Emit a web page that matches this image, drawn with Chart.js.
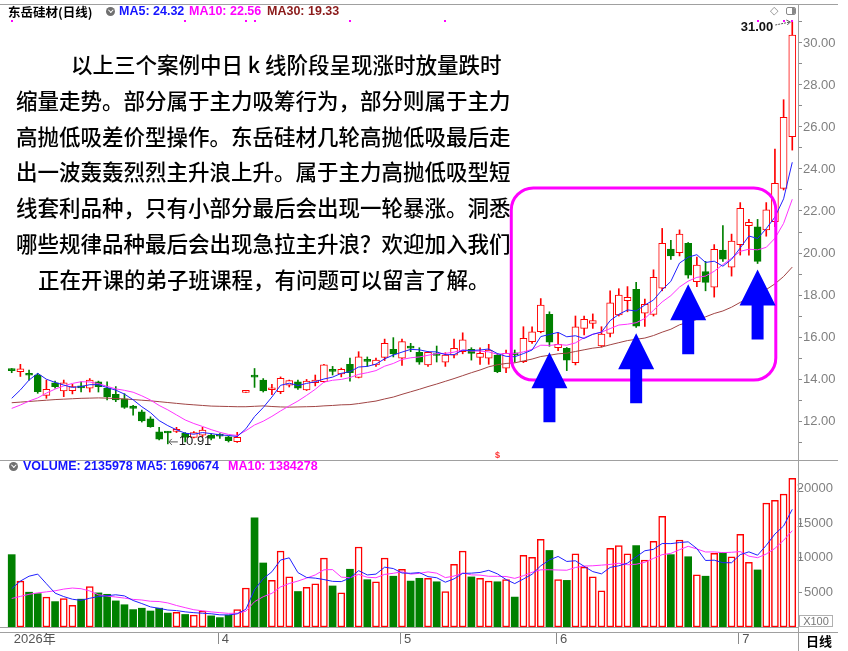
<!DOCTYPE html>
<html lang="zh-CN">
<head>
<meta charset="utf-8">
<title>东岳硅材(日线)</title>
<script src="https://cdn.jsdelivr.net/npm/chart.js@4.4.1/dist/chart.umd.min.js"></script>
<style>
  html, body { margin:0; padding:0; background:#fff; }
  body { width:848px; height:651px; position:relative; overflow:hidden; }
  canvas { position:absolute; left:0; }
  #priceCanvas { top:4px; }
  #volCanvas { top:460px; }
  .ln { position:absolute; background:#a0a0a0; z-index:2; }
  .hdr { position:absolute; white-space:nowrap; font-family:"Liberation Sans", Arial, "Noto Sans CJK SC", sans-serif; font-weight:bold; font-size:12.5px; line-height:15px; z-index:3; }
  .icon { position:absolute; width:9px; height:9px; border-radius:50%; background:#707070; z-index:3; }
  .icon::after { content:""; position:absolute; left:2.6px; top:1.2px; width:2.6px; height:2.6px; border-right:1.3px solid #fff; border-bottom:1.3px solid #fff; transform:rotate(45deg); }
  #note { position:absolute; left:16px; top:46px; font-family:"Noto Sans CJK SC", sans-serif; font-weight:500; font-size:21.5px; line-height:35.8px; color:#000; white-space:nowrap; z-index:3; }
  #note div { height:35.8px; }
</style>
</head>
<body>
<canvas id="priceCanvas" width="848" height="456" style="width:848px;height:456px"></canvas>
<canvas id="volCanvas" width="848" height="191" style="width:848px;height:191px"></canvas>

<div class="ln" style="left:0;top:4px;width:838px;height:1px"></div>
<div class="ln" style="left:0;top:460px;width:838px;height:1px"></div>
<div class="ln" style="left:0;top:627px;width:798px;height:1px"></div>
<div class="ln" style="left:0;top:632px;width:838px;height:1px"></div>
<div class="ln" style="left:798px;top:4px;width:1px;height:647px"></div>

<div class="hdr" id="stockName" style="left:8px;top:4px;color:#000;font-family:'Noto Sans CJK SC',sans-serif;font-size:12.5px;font-weight:bold"></div>
<div class="icon" style="left:106px;top:7px"></div>
<div class="hdr" id="hMa5" style="left:119px;top:4px;color:#1414ff"></div>
<div class="hdr" id="hMa10" style="left:189px;top:4px;color:#ff00ff"></div>
<div class="hdr" id="hMa30" style="left:267px;top:4px;color:#8b1a1a"></div>
<div class="hdr" style="left:770px;top:3px;color:#888;font-weight:normal;font-size:11px;font-family:'DejaVu Sans',sans-serif">◇</div>
<div style="position:absolute;left:786px;top:7px;width:8px;height:6px;border:1px solid #888;border-radius:2px;z-index:3;overflow:hidden"><div style="position:absolute;right:0;top:0;width:3px;height:6px;background:#888"></div></div>

<div class="icon" style="left:9px;top:462px"></div>
<div class="hdr" id="vHead" style="left:23px;top:459px;color:#1414ff"></div>
<div class="hdr" id="vMa10" style="left:228px;top:459px;color:#ff00ff"></div>

<div style="position:absolute;left:799px;top:615px;width:32px;height:10px;border:1px solid #b0b0b0;z-index:3;font-family:'Liberation Sans',Arial,sans-serif;font-size:11px;line-height:10px;color:#777;text-align:center">X100</div>
<div class="hdr" id="periodLbl" style="left:806px;top:633px;color:#000;font-family:'Noto Sans CJK SC',sans-serif;font-size:13px"></div>

<div id="note"></div>

<script>
// ---------------- data ----------------
const stockName = '东岳硅材(日线)';
const periodLabel = '日线';
const priceHeader = { ma5: 24.32, ma10: 22.56, ma30: 19.33 };
const volHeader = { volume: 2135978, ma5: 1690674, ma10: 1384278 };

const opens = [14.45,14.35,14.21,14.19,13.22,13.82,13.43,13.45,13.62,13.56,
13.87,13.56,13.27,13.05,12.71,12.44,12.10,11.49,11.47,11.50,
11.41,11.22,11.33,11.33,11.32,11.25,11.01,13.36,14.13,13.95,
13.49,13.40,13.71,13.87,13.48,13.82,13.87,14.40,14.24,14.70,
14.08,14.88,14.67,15.03,15.41,14.99,15.50,15.27,14.67,15.16,
14.80,15.14,15.30,15.41,15.03,14.99,15.14,14.51,15.19,14.83,
15.78,16.25,17.08,15.49,15.46,14.78,16.41,16.65,15.57,16.17,
17.05,17.73,18.27,17.13,17.08,18.32,20.19,20.02,20.46,18.63,
19.11,18.37,20.14,19.32,20.40,21.30,21.25,21.10,21.49,23.08,
25.54];
const highs = [14.50,14.70,14.43,14.27,13.95,13.90,13.95,13.75,13.86,14.02,
13.90,13.87,13.64,13.30,12.75,12.52,12.20,11.70,11.50,11.70,
11.45,11.50,11.70,11.40,11.40,11.28,11.46,13.46,14.50,14.02,
13.75,14.10,13.95,13.95,13.98,14.19,14.70,14.60,14.52,15.00,
15.30,15.05,15.00,15.90,15.97,15.90,15.70,15.49,15.30,15.57,
15.25,15.90,16.20,15.49,15.49,15.65,15.20,15.38,15.38,16.49,
16.49,17.83,17.20,16.20,15.50,17.00,17.00,17.10,16.49,18.20,
18.30,18.40,18.60,17.80,19.20,21.17,20.60,21.10,20.50,19.80,
19.60,20.40,21.30,20.90,22.40,21.60,21.60,22.40,24.95,27.30,
31.00];
const lows = [14.30,14.12,13.95,13.32,13.08,13.56,13.16,13.29,13.38,13.38,
13.38,13.00,12.92,12.60,12.28,11.95,11.70,11.10,10.91,11.45,
11.00,11.20,11.25,11.10,11.17,11.00,10.98,13.36,13.60,13.38,
13.25,13.30,13.62,13.50,13.45,13.67,13.85,14.19,14.10,13.90,
14.05,14.60,14.60,14.88,15.05,14.65,15.30,14.70,14.60,14.81,
14.60,15.00,15.20,14.90,14.70,14.70,14.30,14.30,14.80,14.78,
15.70,16.20,15.56,15.35,14.40,14.67,16.10,16.41,15.52,16.00,
17.00,17.20,16.46,16.50,17.00,18.20,19.70,19.86,18.80,18.40,
18.20,17.90,19.60,18.90,19.90,19.90,19.50,20.80,21.25,23.00,
24.90];
const closes = [14.40,14.48,14.18,13.40,13.51,13.64,13.82,13.64,13.58,13.95,
13.64,13.16,13.00,12.65,12.60,12.00,11.73,11.13,11.43,11.60,
11.22,11.45,11.57,11.17,11.28,11.06,11.22,13.46,14.09,13.43,
13.53,14.03,13.92,13.56,13.90,13.95,14.67,14.36,14.46,14.30,
15.06,14.84,14.90,15.70,15.19,15.78,15.47,14.80,15.27,15.12,
15.14,15.46,15.86,15.22,15.22,15.38,14.35,15.22,15.15,15.94,
16.25,17.52,15.75,15.65,14.90,16.49,16.84,16.78,16.14,17.63,
18.00,17.89,16.52,17.56,18.84,20.46,19.86,20.90,18.95,19.43,
18.60,20.17,19.71,20.57,22.13,21.46,19.60,22.05,23.32,26.46,
30.38];

const ma5 = [13.08,13.48,13.95,14.27,13.99,13.84,13.71,13.60,13.64,13.73,
13.73,13.59,13.47,13.28,13.01,12.68,12.40,12.02,11.78,11.58,
11.42,11.37,11.45,11.40,11.34,11.31,11.26,11.63,12.21,12.64,
13.14,13.70,13.80,13.69,13.79,13.87,14.00,14.09,14.27,14.35,
14.57,14.60,14.71,14.96,15.14,15.28,15.41,15.39,15.30,15.29,
15.16,15.16,15.37,15.36,15.38,15.43,15.21,15.08,15.06,15.21,
15.38,16.02,16.12,16.22,16.01,16.06,15.93,16.13,16.23,16.78,
17.08,17.29,17.24,17.52,17.76,18.25,18.65,19.52,19.80,19.92,
19.55,19.61,19.37,19.70,20.24,20.81,20.69,21.16,21.71,22.58,
24.32];
const ma10 = [12.60,12.76,12.95,13.10,13.33,13.52,13.67,13.79,13.87,13.86,
13.78,13.65,13.53,13.46,13.37,13.20,13.00,12.74,12.53,12.29,
12.05,11.88,11.74,11.59,11.46,11.36,11.31,11.54,11.81,11.99,
12.22,12.48,12.72,12.95,13.22,13.51,13.85,13.94,13.98,14.07,
14.22,14.30,14.40,14.61,14.74,14.93,15.01,15.05,15.13,15.21,
15.22,15.28,15.38,15.33,15.33,15.29,15.18,15.22,15.21,15.29,
15.41,15.61,15.60,15.64,15.61,15.72,15.97,16.13,16.23,16.40,
16.57,16.61,16.68,16.88,17.27,17.67,17.97,18.38,18.66,18.84,
18.90,19.13,19.45,19.75,20.08,20.18,20.15,20.27,20.70,21.41,
22.56];
const ma30 = [12.87,12.90,12.93,12.96,12.99,13.02,13.04,13.06,13.08,13.09,
13.10,13.09,13.07,13.05,13.02,12.99,12.96,12.92,12.88,12.84,
12.80,12.77,12.74,12.71,12.70,12.69,12.68,12.68,12.70,12.72,
12.69,12.67,12.66,12.67,12.68,12.69,12.72,12.74,12.77,12.78,
12.83,12.89,12.95,13.05,13.14,13.27,13.39,13.51,13.64,13.76,
13.89,14.02,14.16,14.30,14.43,14.58,14.68,14.74,14.77,14.86,
14.95,15.07,15.13,15.20,15.23,15.31,15.39,15.47,15.52,15.63,
15.73,15.83,15.89,15.95,16.07,16.23,16.37,16.58,16.70,16.84,
16.96,17.12,17.24,17.42,17.65,17.86,18.03,18.26,18.53,18.88,
19.33];

// volume in units of 100 shares (axis "X100")
const volumes = [10400,6600,5000,4800,4300,3650,4100,3100,4000,5800,
4900,4700,3750,3200,2500,2700,2300,2700,2000,2100,
1800,1700,2300,1600,1350,1700,2500,5600,15700,9200,
6700,10900,7200,5100,5700,6200,9900,5900,4900,8300,
11500,6800,6500,9900,7300,8300,6600,7000,7000,6500,
5100,9000,10900,7200,7000,6600,6500,6800,4300,10300,
10000,12600,11000,6800,6700,10500,8600,7200,5200,11300,
11700,10500,11700,9600,12300,15900,10400,12500,10100,7500,
7300,10600,10700,10100,13300,9300,8200,17800,18200,19100,
21360];
const volMa5 = [5500,6600,7300,7600,6220,4870,4370,3990,3830,4130,
4380,4500,4630,4470,3810,3370,2890,2680,2440,2360,
2180,2060,1980,1900,1750,1730,1890,2550,5370,6940,
7940,9620,9940,7820,7120,7020,6820,6560,6520,7040,
8100,7480,7600,8600,8400,7760,7720,7820,7240,7080,
6440,6920,7700,7740,7840,8140,7640,6820,6240,6900,
7580,8800,9640,10140,9420,9520,8720,7960,7640,8560,
8800,9180,10080,10960,11160,12000,11980,12140,12240,11280,
9560,9600,9240,9240,10400,10800,10320,11740,13360,14520,
16907];
const volMa10 = [4100,4400,4700,4900,5050,5200,5450,5600,5500,5180,
4630,4440,4310,4150,3970,3880,3700,3660,3460,3090,
2780,2480,2330,2170,2060,1960,1980,2270,3640,4350,
4840,5760,6250,6600,7030,7480,8220,8250,7170,7080,
7560,7150,7080,7560,7720,7930,7600,7710,7920,7740,
7100,7320,7760,7490,7460,7290,7280,7260,6990,7370,
7860,8220,8230,8190,8160,8550,8760,8800,8890,8990,
9160,8950,9020,9300,9860,10400,10580,11110,11600,11220,
10780,10790,10690,10740,10840,10180,9960,10490,11300,12460,
13843];

// x-axis (trading-day index of first session of each month)
const monthTicks = [0, 24, 45, 63, 84];
const monthLabels = ['2026年', '4', '5', '6', '7'];
// price / volume axis ticks
const priceTickLabels = [12, 14, 16, 18, 20, 22, 24, 26, 28, 30];
const volTickLabels = [5000, 10000, 15000, 20000];

// annotations
const arrowDays = [62, 72, 78, 86];
const infoMarkerDays = [0, 20, 27, 28, 39, 50, 86, 89, 90];
const dividendDay = 56;
const highlightBox = { fromDay: 57.6, toDay: 88.1, top: 23.10, bottom: 13.95 };
const noteLines = [
  '以上三个案例中日 k 线阶段呈现涨时放量跌时',
  '缩量走势。部分属于主力吸筹行为，部分则属于主力',
  '高抛低吸差价型操作。东岳硅材几轮高抛低吸最后走',
  '出一波轰轰烈烈主升浪上升。属于主力高抛低吸型短',
  '线套利品种，只有小部分最后会出现一轮暴涨。洞悉',
  '哪些规律品种最后会出现急拉主升浪？欢迎加入我们',
  '正在开课的弟子班课程，有问题可以留言了解。'
];
const noteIndent = [55, 0, 0, 0, 0, 0, 22];

// ---------------- view constants ----------------
const X_MIN = -1.35, X_MAX = 90.66;
const P_MIN = 10.143, P_MAX = 31.857;
const V_MIN = 0, V_MAX = 24000;
const RED = '#ff0000', GREEN = '#008000';
const C_MA5 = '#2020ff', C_MA10 = '#ff33ff', C_MA30 = '#a04444';

// ---------------- header texts ----------------
document.getElementById('stockName').textContent = stockName;
document.getElementById('hMa5').textContent = 'MA5: ' + priceHeader.ma5.toFixed(2);
document.getElementById('hMa10').textContent = 'MA10: ' + priceHeader.ma10.toFixed(2);
document.getElementById('hMa30').textContent = 'MA30: ' + priceHeader.ma30.toFixed(2);
document.getElementById('vHead').textContent = 'VOLUME: ' + volHeader.volume + ' MA5: ' + volHeader.ma5;
document.getElementById('vMa10').textContent = 'MA10: ' + volHeader.ma10;
document.getElementById('periodLbl').textContent = periodLabel;
const note = document.getElementById('note');
noteLines.forEach((t, i) => {
  const d = document.createElement('div');
  d.textContent = t;
  d.style.paddingLeft = noteIndent[i] + 'px';
  note.appendChild(d);
});

// ---------------- derived chart data ----------------
const up = closes.map((c, i) => c >= opens[i]);
const wickData = lows.map((l, i) => ({ x: i, y: [l, highs[i]] }));
const bodyData = opens.map((o, i) => ({ x: i, y: [o, closes[i]] }));
const toXY = arr => arr.map((v, i) => ({ x: i, y: v }));

Chart.defaults.font.family = '"Liberation Sans", Arial, "Noto Sans CJK SC", sans-serif';

function fixY(w) {
  return function (scale) { scale.width = w; scale.paddingTop = 0; scale.paddingBottom = 0; };
}

// ---------------- price chart ----------------
const priceDecor = {
  id: 'priceDecor',
  afterDatasetsDraw(chart) {
    const { ctx } = chart;
    const xs = chart.scales.x, ys = chart.scales.y;
    ctx.save();

    // info markers
    ctx.fillStyle = '#ff00ff';
    infoMarkerDays.forEach(d => {
      ctx.fillRect(Math.round(xs.getPixelForValue(d)) - 1, 16, 2, 2);
    });

    // highlight box
    const bx1 = xs.getPixelForValue(highlightBox.fromDay);
    const bx2 = xs.getPixelForValue(highlightBox.toDay);
    const by1 = ys.getPixelForValue(highlightBox.top);
    const by2 = ys.getPixelForValue(highlightBox.bottom);
    ctx.strokeStyle = '#ff00ff';
    ctx.lineWidth = 3;
    ctx.beginPath();
    ctx.roundRect(bx1, by1, bx2 - bx1, by2 - by1, 22);
    ctx.stroke();

    // blue arrows below selected candles
    ctx.fillStyle = '#0000ff';
    arrowDays.forEach(d => {
      const cx = xs.getPixelForValue(d);
      const ay = ys.getPixelForValue(lows[d]) + 6;
      const triH = 36, half = 18, sh = 6, shaftH = 34;
      ctx.beginPath();
      ctx.moveTo(cx, ay);
      ctx.lineTo(cx + half, ay + triH);
      ctx.lineTo(cx + sh, ay + triH);
      ctx.lineTo(cx + sh, ay + triH + shaftH);
      ctx.lineTo(cx - sh, ay + triH + shaftH);
      ctx.lineTo(cx - sh, ay + triH);
      ctx.lineTo(cx - half, ay + triH);
      ctx.closePath();
      ctx.fill();
    });

    // max high label
    let hi = 0; highs.forEach((h, i) => { if (h > highs[hi]) hi = i; });
    const hx = xs.getPixelForValue(hi), hy = ys.getPixelForValue(highs[hi]);
    ctx.strokeStyle = '#555';
    ctx.lineWidth = 1;
    ctx.setLineDash([2, 1]);
    ctx.beginPath(); ctx.moveTo(hx - 17, hy + 3); ctx.lineTo(hx - 2, hy); ctx.stroke();
    ctx.setLineDash([]);
    ctx.beginPath(); ctx.moveTo(hx - 6, hy - 2); ctx.lineTo(hx - 2, hy); ctx.lineTo(hx - 5, hy + 3); ctx.stroke();
    ctx.fillStyle = '#111';
    ctx.font = 'bold 13px "Liberation Sans", Arial, sans-serif';
    ctx.textAlign = 'right';
    ctx.textBaseline = 'middle';
    ctx.fillText(highs[hi].toFixed(2), hx - 19, hy + 5);

    // min low label
    let lo = 0; lows.forEach((l, i) => { if (l < lows[lo]) lo = i; });
    const lx = xs.getPixelForValue(lo), ly = ys.getPixelForValue(lows[lo]) - 2;
    ctx.strokeStyle = '#555';
    ctx.beginPath(); ctx.moveTo(lx + 1, ly); ctx.lineTo(lx + 10, ly); ctx.stroke();
    ctx.beginPath(); ctx.moveTo(lx + 4, ly - 3); ctx.lineTo(lx + 1, ly); ctx.lineTo(lx + 4, ly + 3); ctx.stroke();
    ctx.fillStyle = '#222';
    ctx.font = '13px "Liberation Sans", Arial, sans-serif';
    ctx.textAlign = 'left';
    ctx.fillText(lows[lo].toFixed(2), lx + 11, ly);

    // dividend marker
    ctx.fillStyle = '#ff3030';
    ctx.font = 'bold 9px "Liberation Sans", Arial, sans-serif';
    ctx.textAlign = 'center';
    ctx.fillText('$', xs.getPixelForValue(dividendDay), chart.chartArea.bottom - 4);

    ctx.restore();
  }
};

new Chart(document.getElementById('priceCanvas'), {
  type: 'line',
  data: {
    datasets: [
      { type: 'line', data: toXY(ma5), borderColor: C_MA5, borderWidth: 1, pointRadius: 0, order: 0 },
      { type: 'line', data: toXY(ma10), borderColor: C_MA10, borderWidth: 1, pointRadius: 0, order: 0 },
      { type: 'line', data: toXY(ma30), borderColor: C_MA30, borderWidth: 1, pointRadius: 0, order: 0 },
      { type: 'bar', data: bodyData, grouped: false, barThickness: 7, minBarLength: 2,
        backgroundColor: up.map(u => u ? '#ffffff' : GREEN),
        borderColor: up.map(u => u ? RED : GREEN), borderWidth: 1, borderSkipped: false, order: 1 },
      { type: 'bar', data: wickData, grouped: false, barThickness: 1, minBarLength: 1,
        backgroundColor: up.map(u => u ? RED : GREEN), borderWidth: 0, order: 2 }
    ]
  },
  options: {
    responsive: false, animation: false, devicePixelRatio: 1,
    layout: { padding: 0 },
    plugins: { legend: { display: false }, tooltip: { enabled: false } },
    scales: {
      x: { type: 'linear', min: X_MIN, max: X_MAX, offset: false, display: false },
      y: {
        type: 'linear', position: 'right', min: P_MIN, max: P_MAX,
        border: { display: false },
        grid: { display: true, drawOnChartArea: false, drawTicks: true, tickLength: 4, color: '#8a8a8a' },
        ticks: {
          stepSize: 1, includeBounds: false, autoSkip: false, padding: 1,
          color: '#808080', font: { size: 13 },
          callback: v => priceTickLabels.includes(v) ? v.toFixed(2) : ''
        },
        afterFit: fixY(50)
      }
    }
  },
  plugins: [priceDecor]
});

// ---------------- volume chart ----------------
const volDecor = {
  id: 'volDecor',
  afterDraw(chart) {
    const { ctx } = chart;
    const xs = chart.scales.x, ys = chart.scales.y;
    const right = chart.chartArea.right;
    ctx.save();
    ctx.strokeStyle = '#8a8a8a';
    ctx.lineWidth = 1;
    // month separators on the time axis
    monthTicks.forEach((d, k) => {
      if (k === 0) return;
      const px = Math.round(xs.getPixelForValue(d)) - 1.5;
      ctx.beginPath(); ctx.moveTo(px, 172); ctx.lineTo(px, 184); ctx.stroke();
    });
    // value axis ticks + labels (right side)
    ctx.fillStyle = '#808080';
    ctx.font = '13px "Liberation Sans", Arial, sans-serif';
    ctx.textAlign = 'right';
    ctx.textBaseline = 'middle';
    volTickLabels.forEach(v => {
      const py = Math.round(ys.getPixelForValue(v)) + 0.5;
      ctx.beginPath(); ctx.moveTo(right, py); ctx.lineTo(right + 4, py); ctx.stroke();
      ctx.fillText(String(v), right + 35, py);
    });
    ctx.restore();
  }
};

new Chart(document.getElementById('volCanvas'), {
  type: 'line',
  data: {
    datasets: [
      { type: 'line', data: toXY(volMa5), borderColor: C_MA5, borderWidth: 1, pointRadius: 0, order: 0 },
      { type: 'line', data: toXY(volMa10), borderColor: C_MA10, borderWidth: 1, pointRadius: 0, order: 0 },
      { type: 'bar', data: toXY(volumes), grouped: false, barThickness: 7,
        backgroundColor: up.map(u => u ? '#ffffff' : GREEN),
        borderColor: up.map(u => u ? RED : GREEN), borderWidth: up.map(u => u ? 1.5 : 0),
        borderSkipped: false, order: 1 }
    ]
  },
  options: {
    responsive: false, animation: false, devicePixelRatio: 1,
    layout: { padding: 0 },
    plugins: { legend: { display: false }, tooltip: { enabled: false } },
    scales: {
      x: {
        type: 'linear', min: X_MIN, max: X_MAX, offset: false, position: 'bottom',
        border: { display: false },
        grid: { display: false, drawTicks: false },
        afterBuildTicks: scale => { scale.ticks = monthTicks.map(v => ({ value: v })); },
        ticks: {
          autoSkip: false, maxRotation: 0, align: 'start', labelOffset: 2, padding: 5,
          color: '#555', font: { size: 13 },
          callback: (v, i) => monthLabels[i]
        },
        afterFit: s => { s.height = 24; s.paddingLeft = 0; s.paddingRight = 0; }
      },
      y: {
        type: 'linear', position: 'right', min: V_MIN, max: V_MAX,
        border: { display: false },
        grid: { display: false },
        ticks: { display: false, stepSize: 5000 },
        afterFit: fixY(50)
      }
    }
  },
  plugins: [volDecor]
});
</script>
</body>
</html>
